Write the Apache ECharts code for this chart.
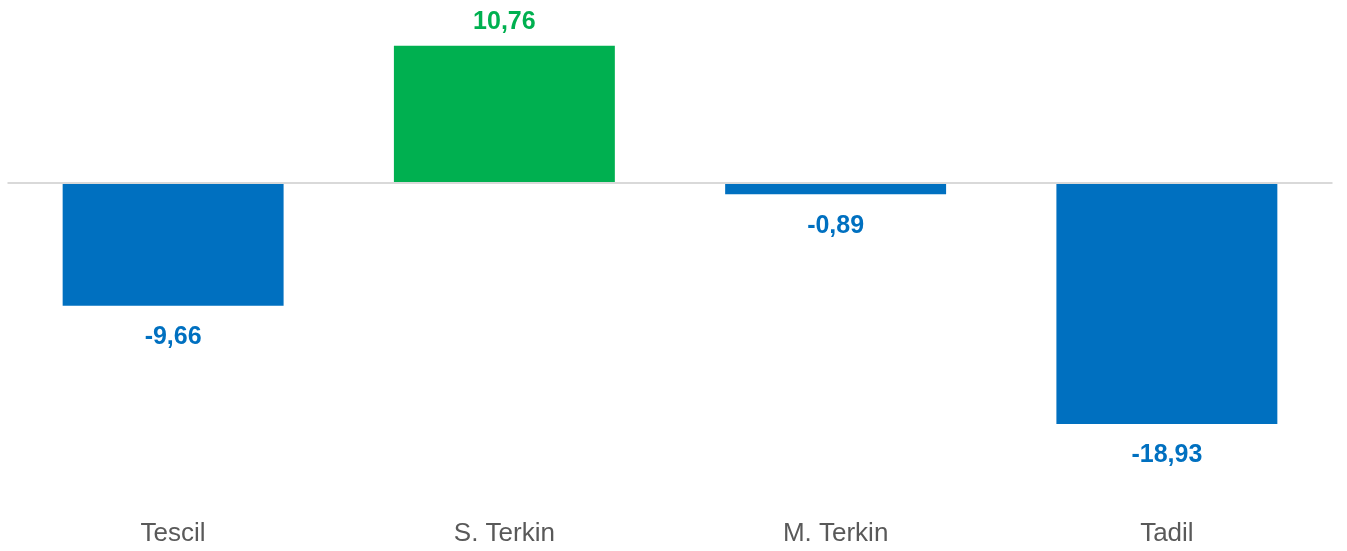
<!DOCTYPE html>
<html>
<head>
<meta charset="utf-8">
<script src="https://cdn.jsdelivr.net/npm/echarts@6/dist/echarts.min.js"></script>
<style>
  html, body { margin: 0; padding: 0; background: #fff; }
  #chart { width: 1347px; height: 551px; }
</style>
</head>
<body>
<div id="chart"></div>
<script>
// kategoriler ve degerler
var categories = ['Tescil', 'S. Terkin', 'M. Terkin', 'Tadil'];
var values = [-9.66, 10.76, -0.89, -18.93];

var BLUE = '#0070C0';
var GREEN = '#00B050';

var barData = values.map(function (v) {
  var c = v >= 0 ? GREEN : BLUE;
  return {
    value: v,
    itemStyle: { color: c },
    label: {
      position: v >= 0 ? 'top' : 'bottom',
      distance: v >= 0 ? 11 : 19,
      color: c
    }
  };
});

var myChart = echarts.init(document.getElementById('chart'));
myChart.setOption({
  animation: false,
  grid: { left: 7.5, right: 14.5, top: 30, bottom: 62.5, containLabel: false },
  xAxis: {
    type: 'category',
    data: categories,
    axisLine: { show: false, onZero: false },
    axisTick: { show: false },
    axisLabel: {
      margin: 32,
      fontSize: 26,
      color: '#595959',
      fontFamily: 'Liberation Sans, Arial, sans-serif'
    }
  },
  yAxis: {
    type: 'value',
    min: -24,
    max: 12,
    interval: 12,
    show: false,
    splitLine: { show: false }
  },
  series: [
    {
      type: 'bar',
      data: barData,
      barCategoryGap: '33.3%',
      label: {
        show: true,
        fontSize: 25,
        fontWeight: 'bold',
        fontFamily: 'Liberation Sans, Arial, sans-serif',
        formatter: function (p) {
          return p.value.toFixed(2).replace('.', ',');
        }
      },
      markLine: {
        silent: true,
        symbol: 'none',
        label: { show: false },
        lineStyle: { color: '#d9d9d9', width: 2, type: 'solid' },
        data: [{ yAxis: 0 }]
      },
      z: 3
    }
  ]
});
</script>
</body>
</html>
